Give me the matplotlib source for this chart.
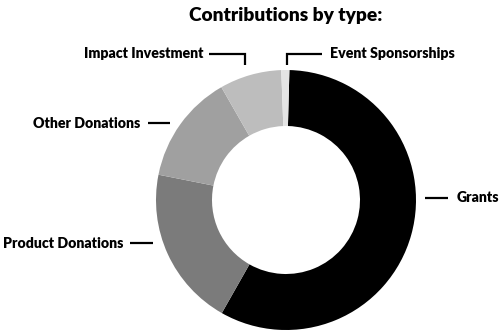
import matplotlib.pyplot as plt

plt.rcParams['font.family'] = ['Lato', 'DejaVu Sans']

# data
labels = ['Grants', 'Product Donations', 'Other Donations', 'Impact Investment', 'Event Sponsorships']
values = [57.8, 19.9, 13.6, 7.7, 1.0]
colors = ['#000000', '#7b7b7b', '#a0a0a0', '#bdbdbd', '#e4e4e4']

fig = plt.figure(figsize=(5, 3.34), dpi=100)
ax = fig.add_axes([0, 0, 1, 1])

H = 334
cx, cy, r = 286, H - 200, 130
ax.pie(values, colors=colors, startangle=88.5, counterclock=False,
       center=(cx, cy), radius=r,
       wedgeprops=dict(width=56, linewidth=0))

# labels with leader lines (pixel coords from the top-left)
ha = ['left', 'right', 'right', 'right', 'left']
text_xy = [(457, 198), (123, 243), (140, 123), (203, 54), (330, 54)]
leaders = [
    [(425, 198), (448, 198)],
    [(130, 243), (153, 243)],
    [(148, 123), (170, 123)],
    [(209, 54), (245, 54), (245, 65)],
    [(322, 54), (287, 54), (287, 65)],
]
for lab, h, (tx, ty), pts in zip(labels, ha, text_xy, leaders):
    ax.text(tx, H - ty, lab, ha=h, va='center', fontsize=10.2, fontweight='heavy')
    xs = [p[0] for p in pts]
    ys = [H - p[1] for p in pts]
    ax.plot(xs, ys, color='black', lw=1.6, solid_capstyle='butt', solid_joinstyle='miter')

ax.text(286, H - 15, 'Contributions by type:', ha='center', va='center',
        fontsize=13.8, fontweight='heavy')

ax.set_xlim(0, 500)
ax.set_ylim(0, H)
ax.set_aspect('auto')
ax.axis('off')

fig.savefig('out.png', dpi=100)
